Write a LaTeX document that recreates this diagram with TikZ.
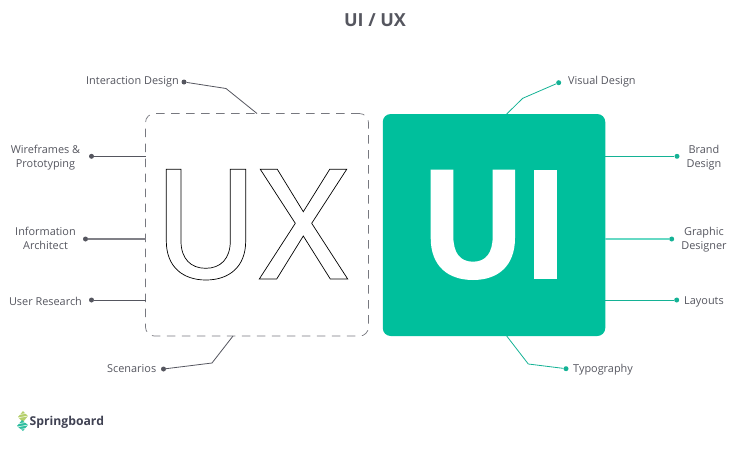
\documentclass[tikz,border=0pt]{standalone}
\usepackage{fontspec}
\setmainfont{Open Sans}
\usepackage{xcolor}
\usetikzlibrary{arrows,arrows.meta}
\definecolor{uigreen}{HTML}{00BF9C}
\definecolor{uiline}{HTML}{14B295}
\definecolor{inkgray}{HTML}{55565F}
\definecolor{logogray}{HTML}{3F4152}
\definecolor{leafgreen}{HTML}{B5CF6B}
\definecolor{leafteal}{HTML}{2FBFA0}
\tikzset{
  lab/.style={text=inkgray,font=\fontsize{10.9}{14}\selectfont,align=center,inner sep=0pt},
  uxdot/.style={circle,fill=inkgray,inner sep=0pt,minimum size=5},
  uidot/.style={circle,fill=uiline,inner sep=0pt,minimum size=5},
  uxline/.style={color=inkgray,line width=.8pt},
  uiline/.style={color=uiline,line width=.8pt}
}

\begin{document}
\begin{tikzpicture}[x=1,y=-1]
\useasboundingbox (0,0) rectangle (750,450);

\node[text=inkgray,font=\fontsize{18}{20}\selectfont\bfseries] (title) at (375,20.5) {UI / UX};

% boxes
\node[draw=inkgray!80,dash pattern=on 8.5pt off 6.5pt,line width=.7pt,rounded corners=9,minimum width=223,minimum height=222.5,inner sep=0pt] (uxbox) at (257,224.8) {};
\node[fill=uigreen,rounded corners=8,minimum width=222.5,minimum height=222,inner sep=0pt] (uibox) at (494,225) {};

% letters
\draw[color=black,line width=.7pt] (166.3,169.3) -- (181,169.3) -- (181,241) .. controls (181,259) and (191,268.3) .. (205.7,268.3) .. controls (220.4,268.3) and (230.3,259) .. (230.3,241) -- (230.3,169.3) -- (245.7,169.3) -- (245.7,241) .. controls (245.7,267) and (229,280) .. (205.9,280) .. controls (183,280) and (166.3,267) .. (166.3,241) -- cycle;
\draw[color=black,line width=.7pt] (260.3,169.3) -- (277.3,169.3) -- (303.3,211.7) -- (329.7,169.3) -- (346.7,169.3) -- (311.7,223.3) -- (347.7,279) -- (330.3,279) -- (303.3,236) -- (276.7,279) -- (259.3,279) -- (295.3,223.3) -- cycle;
\fill[color=white] (430.7,169.5) -- (453.3,169.5) -- (453.3,236) .. controls (453.3,253) and (460,261.7) .. (473,261.7) .. controls (486,261.7) and (492.7,253) .. (492.7,236) -- (492.7,169.5) -- (515,169.5) -- (515,238) .. controls (515,266) and (498,280) .. (473,280) .. controls (448,280) and (430.7,266) .. (430.7,238) -- cycle;
\fill[color=white] (534,169.5) rectangle (557,279);

% left side
\node[lab,anchor=west] (interaction) at (86,81.5) {Interaction Design};
\node[uxdot] (interactiondot) at (184,82) {};
\coordinate (interactionbend) at (226,88.5);
\coordinate (interactionend) at (257,113.5);
\draw[uxline] (interactiondot) -- (interactionbend) -- (interactionend);

\node[lab] (wireframes) at (45.5,157.5) {Wireframes \&\\Prototyping};
\node[uxdot] (wireframesdot) at (91.5,156.3) {};
\coordinate (wireframesend) at (146,156.3);
\draw[uxline] (wireframesdot) -- (wireframesend);

\node[lab] (information) at (45.5,238) {Information\\Architect};
\node[uxdot] (informationdot) at (85.5,239) {};
\coordinate (informationend) at (146,239);
\draw[uxline,color=inkgray!75,line width=1.1pt] (informationdot) -- (informationend);

\node[lab] (research) at (45.5,301) {User Research};
\node[uxdot] (researchdot) at (91.5,300) {};
\coordinate (researchend) at (146,300);
\draw[uxline] (researchdot) -- (researchend);

\node[lab,anchor=west] (scenarios) at (107,369) {Scenarios};
\node[uxdot] (scenariosdot) at (163.5,369) {};
\coordinate (scenariosbend) at (212,363);
\coordinate (scenariosend) at (233,336);
\draw[uxline] (scenariosdot) -- (scenariosbend) -- (scenariosend);

% right side
\node[lab,anchor=west] (visual) at (568,81.5) {Visual Design};
\node[uidot] (visualdot) at (558.7,82.7) {};
\coordinate (visualbend) at (522.7,98.3);
\coordinate (visualend) at (506.7,114);
\draw[uiline] (visualdot) -- (visualbend) -- (visualend);

\node[lab] (brand) at (704,157.5) {Brand\\Design};
\node[uidot] (branddot) at (677,156.3) {};
\coordinate (brandend) at (605,156.3);
\draw[uiline] (branddot) -- (brandend);

\node[lab] (graphic) at (704,240) {Graphic\\Designer};
\node[uidot] (graphicdot) at (671.7,239) {};
\coordinate (graphicend) at (605,239);
\draw[uiline,color=uigreen!60,line width=1.1pt] (graphicdot) -- (graphicend);

\node[lab,anchor=west] (layouts) at (684,302) {Layouts};
\node[uidot] (layoutsdot) at (676.7,300) {};
\coordinate (layoutsend) at (605,300);
\draw[uiline] (layoutsdot) -- (layoutsend);

\node[lab,anchor=west] (typography) at (573,370) {Typography};
\node[uidot] (typographydot) at (566,368.7) {};
\coordinate (typographybend) at (528.3,364);
\coordinate (typographyend) at (506.7,336);
\draw[uiline] (typographydot) -- (typographybend) -- (typographyend);

% logo
\fill[color=leafgreen] (23,411) -- (28,416) -- (23,422) -- (18,417) -- cycle;
\fill[color=leafteal] (22,420) -- (28,425) -- (23,431) -- (17,426) -- cycle;
\foreach \y in {414,417,423,426,429}
  \draw[color=white,line width=.5pt] (17,\y+1) -- (28,\y-1);
\node[text=logogray,font=\fontsize{12.2}{14}\selectfont\bfseries,anchor=west,inner sep=0pt] (springboard) at (29.5,422.5) {Springboard};

\end{tikzpicture}
\end{document}
